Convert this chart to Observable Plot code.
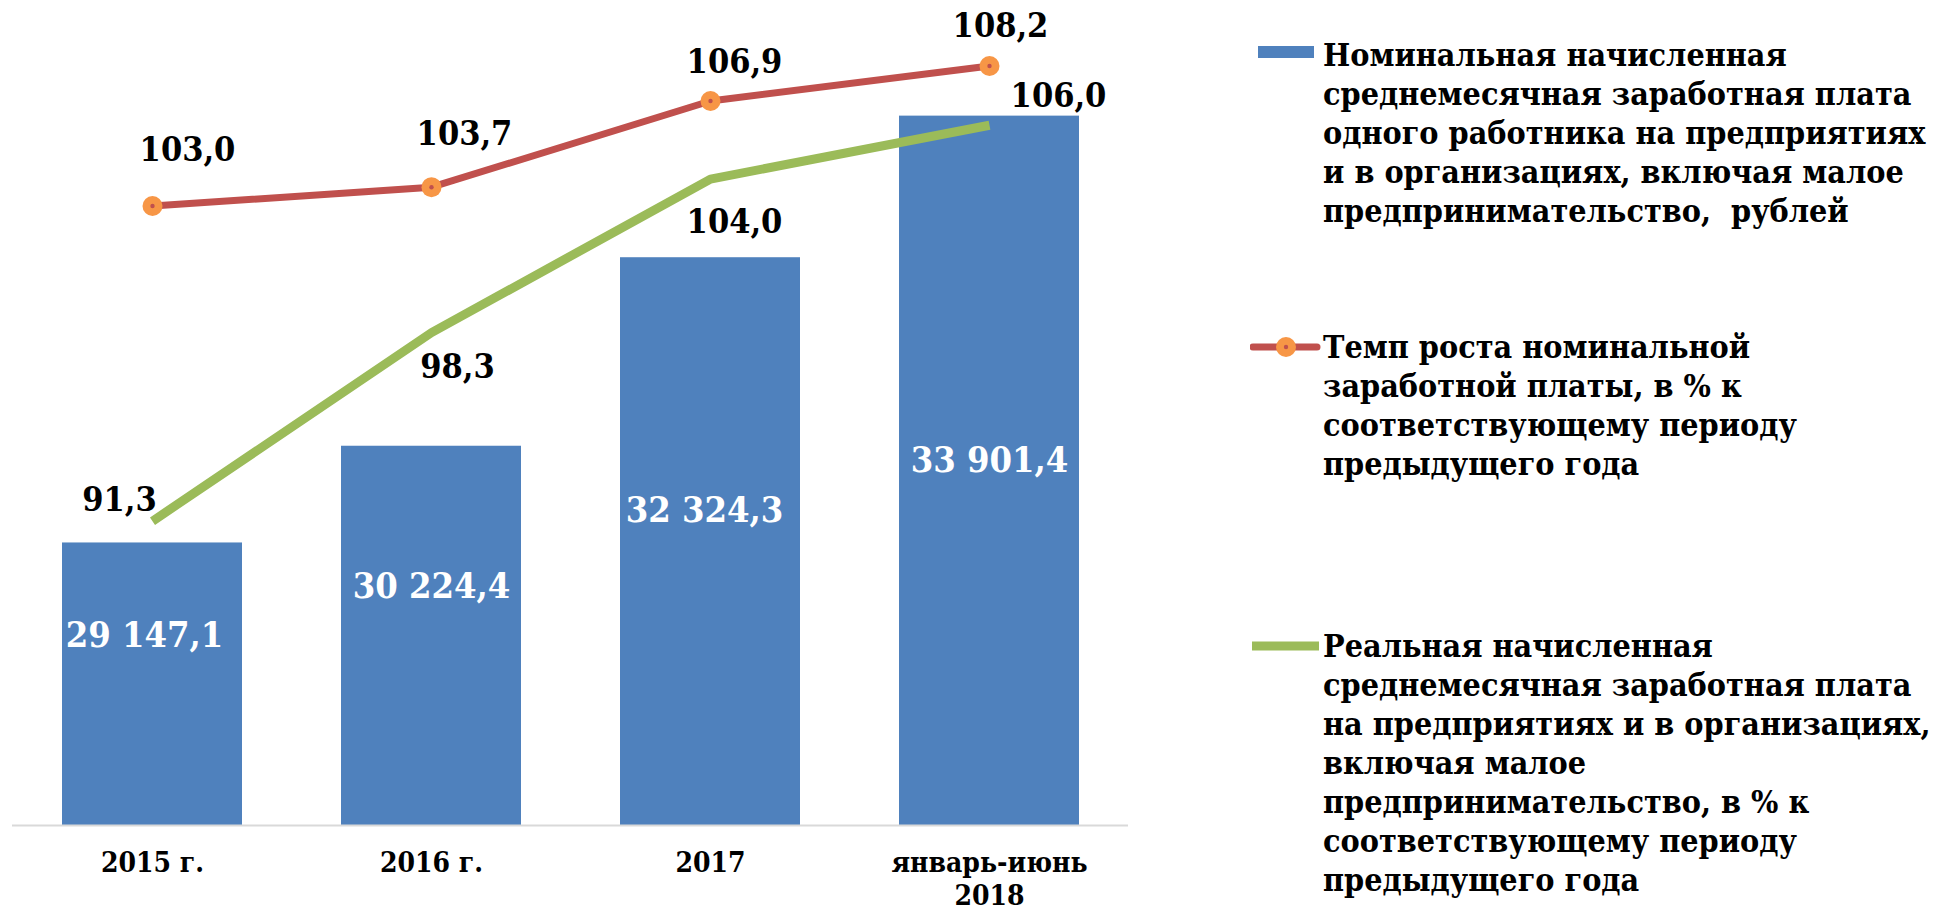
<!DOCTYPE html>
<html>
<head>
<meta charset="utf-8">
<script src="https://cdn.jsdelivr.net/npm/d3@7"></script>
<script src="https://cdn.jsdelivr.net/npm/@observablehq/plot@0.6"></script>
<style>
  html, body { margin: 0; padding: 0; background: #fff; }
  #wrap { position: relative; width: 1944px; height: 912px; overflow: hidden; }
  #chart svg text { font-family: "DejaVu Serif Condensed", "DejaVu Serif", serif; font-weight: bold; }
  .legend { position: absolute; left: 1250px; font-family: "DejaVu Serif Condensed", "DejaVu Serif", serif;
            font-weight: bold; font-size: 32px; line-height: 39px; color: #000; white-space: pre; }
  .legend svg { position: absolute; left: 0; }
  .legend .txt { position: absolute; left: 73px; top: 0; }
</style>
</head>
<body>
<div id="wrap">
  <div id="chart"></div>
  <div id="legend"></div>
</div>
<script>
// ---- data ----
const categories = ["2015 г.", "2016 г.", "2017", "январь-июнь\n2018"];
const nominalWage = [29147.1, 30224.4, 32324.3, 33901.4];      // рублей
const nominalGrowth = [103.0, 103.7, 106.9, 108.2];             // % к соотв. периоду
const realWage = [91.3, 98.3, 104.0, 106.0];                    // % к соотв. периоду
const seriesNames = [
  "Номинальная начисленная\nсреднемесячная заработная плата\nодного работника на предприятиях\nи в организациях, включая малое\nпредпринимательство,  рублей",
  "Темп роста номинальной\nзаработной платы, в % к\nсоответствующему периоду\nпредыдущего года",
  "Реальная начисленная\nсреднемесячная заработная плата\nна предприятиях и в организациях,\nвключая малое\nпредпринимательство, в % к\nсоответствующему периоду\nпредыдущего года"
];

// ---- axes / layout ----
const rubDomain = [26000, 35000];
const pctDomain = [80, 110];
const barLabelAt = [28120, 28660, 29510, 30070];
const barLabelDx = [-8, 0, -6, 0];
const growthLabelOffset = [[35, -56], [33, -53], [24, -39], [11, -40]];
const realLabelOffset = [[-33, -21], [26, 34], [24, 43], [69, -29]];

const colors = {bar: "#4F81BD", growth: "#C0504D", marker: "#F79646", real: "#9BBB59", base: "#D9D9D9"};

const ru = d3.formatLocale({decimal: ",", thousands: " ", grouping: [3], currency: ["", ""]});
const fmtRub = ru.format(",.1f");
const fmtPct = ru.format(".1f");

const toRub = d3.scaleLinear(pctDomain, rubDomain);

const rows = categories.map((c, i) => ({
  cat: c, wage: nominalWage[i], growth: nominalGrowth[i], real: realWage[i], labelAt: barLabelAt[i]
}));

const marks = [
  Plot.barY(rows, {x: "cat", y1: rubDomain[0], y2: "wage", fill: colors.bar}),
  Plot.ruleY([rubDomain[0]], {stroke: colors.base, strokeWidth: 2}),
  Plot.line(rows, {x: "cat", y: d => toRub(d.real), stroke: colors.real, strokeWidth: 9, strokeLinecap: "butt", strokeLinejoin: "round"}),
  Plot.line(rows, {x: "cat", y: d => toRub(d.growth), stroke: colors.growth, strokeWidth: 7, strokeLinecap: "butt", strokeLinejoin: "round"}),
  Plot.dot(rows, {x: "cat", y: d => toRub(d.growth), r: 10, fill: colors.marker, stroke: "none"}),
  Plot.dot(rows, {x: "cat", y: d => toRub(d.growth), r: 2.2, fill: colors.growth, stroke: "none"}),
  Plot.axisX({tickSize: 0, tickPadding: 22, fontSize: 28, lineHeight: 1.21, fill: "#000", label: null})
];
rows.forEach((d, i) => {
  marks.push(Plot.text([d], {x: "cat", y: "labelAt", text: r => fmtRub(r.wage),
    dx: barLabelDx[i], fill: "#fff", fontSize: 36}));
  marks.push(Plot.text([d], {x: "cat", y: r => toRub(r.growth), text: r => fmtPct(r.growth),
    dx: growthLabelOffset[i][0], dy: growthLabelOffset[i][1], fill: "#000", fontSize: 34}));
  marks.push(Plot.text([d], {x: "cat", y: r => toRub(r.real), text: r => fmtPct(r.real),
    dx: realLabelOffset[i][0], dy: realLabelOffset[i][1], fill: "#000", fontSize: 34}));
});

const chart = Plot.plot({
  width: 1944,
  height: 912,
  marginLeft: 12,
  marginRight: 816,
  marginTop: 17,
  marginBottom: 87,
  x: {domain: categories, paddingInner: 0.355, paddingOuter: 0.1775, axis: null},
  y: {domain: rubDomain, axis: null},
  marks
});
document.getElementById("chart").appendChild(chart);

// ---- legend ----
const legendTops = [36, 328, 627];
const legend = document.getElementById("legend");
seriesNames.forEach((name, i) => {
  const item = document.createElement("div");
  item.className = "legend";
  item.style.top = legendTops[i] + "px";
  let sym = "";
  if (i === 0) sym = `<svg width="70" height="40" style="top:0"><rect x="8" y="10" width="56" height="12" fill="${colors.bar}"/></svg>`;
  if (i === 1) sym = `<svg width="72" height="40" style="top:0"><line x1="3" y1="19" x2="67" y2="19" stroke="${colors.growth}" stroke-width="7" stroke-linecap="round"/><circle cx="36" cy="19" r="10" fill="${colors.marker}"/><circle cx="36" cy="19" r="2.2" fill="${colors.growth}"/></svg>`;
  if (i === 2) sym = `<svg width="72" height="40" style="top:0"><line x1="2" y1="19" x2="69" y2="19" stroke="${colors.real}" stroke-width="9"/></svg>`;
  item.innerHTML = sym + `<div class="txt">${name}</div>`;
  legend.appendChild(item);
});
</script>
</body>
</html>
